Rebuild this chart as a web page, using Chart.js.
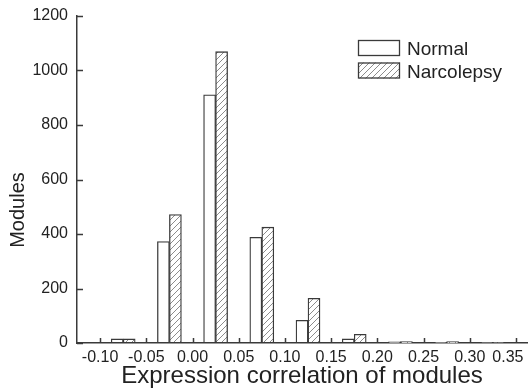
<!DOCTYPE html>
<html>
<head>
<meta charset="utf-8">
<script src="https://cdn.jsdelivr.net/npm/chart.js@4"></script>
<style>
  body { margin: 0; background: #fff; }
  #wrap { width: 528px; height: 391px; }
</style>
</head>
<body>
<div id="wrap"><canvas id="chart"></canvas></div>
<script>
// histogram bins (width 0.05)
const binCenters = [-0.075, -0.025, 0.025, 0.075, 0.125, 0.175, 0.225, 0.275, 0.325];
const normalCounts = [15, 372, 911, 388, 83, 15, 4, 2, 1];
const narcolepsyCounts = [15, 471, 1069, 425, 164, 32, 5, 5, 1];
const xTicks = [-0.10, -0.05, 0.00, 0.05, 0.10, 0.15, 0.20, 0.25, 0.30, 0.35];
const yTicks = [0, 200, 400, 600, 800, 1000, 1200];
const seriesLabels = ['Normal', 'Narcolepsy'];

const FONT = '"Liberation Sans", Arial, sans-serif';
const INK = '#222';
const LINE = '#3a3a3a';

// diagonal hatch for the narcolepsy bars
function makeHatch() {
  const c = document.createElement('canvas');
  c.width = 6; c.height = 6;
  const g = c.getContext('2d');
  g.fillStyle = '#fff';
  g.fillRect(0, 0, 6, 6);
  g.strokeStyle = '#8c8c8c';
  g.lineWidth = 1;
  g.beginPath();
  g.moveTo(-1, 7); g.lineTo(7, -1);
  g.moveTo(-1, 1); g.lineTo(1, -1);
  g.moveTo(5, 7); g.lineTo(7, 5);
  g.stroke();
  return g.createPattern(c, 'repeat');
}
const hatch = makeHatch();

// inward ticks, rotated y title, boxed legend
const extras = {
  id: 'extras',
  afterDraw(chart) {
    const ctx = chart.ctx;
    const xs = chart.scales.x, ys = chart.scales.y;
    const area = chart.chartArea;
    ctx.save();
    ctx.strokeStyle = LINE;
    ctx.lineWidth = 1.5;
    ctx.beginPath();
    xs.ticks.forEach(t => {
      const px = Math.round(xs.getPixelForValue(t.value)) + 0.5;
      ctx.moveTo(px, area.bottom);
      ctx.lineTo(px, area.bottom - 5);
    });
    ys.ticks.forEach(t => {
      const py = Math.round(ys.getPixelForValue(t.value)) + 0.5;
      ctx.moveTo(area.left, py);
      ctx.lineTo(area.left + 6, py);
    });
    ctx.stroke();

    // y title
    ctx.save();
    ctx.fillStyle = INK;
    ctx.font = '20px ' + FONT;
    ctx.translate(24, 210);
    ctx.rotate(-Math.PI / 2);
    ctx.textAlign = 'center';
    ctx.textBaseline = 'alphabetic';
    ctx.fillText('Modules', 0, 0);
    ctx.restore();

    // legend
    const rows = [40, 62.5];
    ctx.font = '19px ' + FONT;
    ctx.textAlign = 'left';
    ctx.textBaseline = 'alphabetic';
    chart.data.datasets.forEach((ds, i) => {
      const top = rows[i];
      ctx.fillStyle = ds.backgroundColor;
      ctx.fillRect(358, top, 42, 16);
      ctx.strokeStyle = LINE;
      ctx.lineWidth = 1.3;
      ctx.strokeRect(358.5, top + 0.5, 41, 15);
      ctx.fillStyle = INK;
      ctx.fillText(ds.label, 407, top + 15);
    });
    ctx.restore();
  }
};

const tickFont = { family: FONT, size: 16 };

new Chart(document.getElementById('chart'), {
  type: 'bar',
  data: {
    datasets: [
      {
        label: seriesLabels[0],
        data: binCenters.map((x, i) => ({ x: x, y: normalCounts[i] })),
        backgroundColor: '#ffffff',
        borderColor: LINE,
        borderWidth: 1.3,
        borderSkipped: false,
        barThickness: 12
      },
      {
        label: seriesLabels[1],
        data: binCenters.map((x, i) => ({ x: x, y: narcolepsyCounts[i] })),
        backgroundColor: hatch,
        borderColor: LINE,
        borderWidth: 1.3,
        borderSkipped: false,
        barThickness: 12
      }
    ]
  },
  options: {
    responsive: true,
    maintainAspectRatio: false,
    animation: false,
    layout: { padding: { top: 16, right: 1, left: 0, bottom: 0 } },
    plugins: {
      legend: { display: false },
      tooltip: { enabled: false }
    },
    scales: {
      x: {
        type: 'linear',
        min: -0.125,
        max: 0.362,
        offset: false,
        afterBuildTicks: s => { s.ticks = xTicks.map(v => ({ value: v })); },
        afterFit: s => { s.height = 48; s.paddingLeft = 0; s.paddingRight = 0; },
        grid: { display: false, drawTicks: false },
        border: { color: LINE, width: 1.5 },
        ticks: {
          padding: 5,
          color: INK,
          font: tickFont,
          maxRotation: 0,
          autoSkip: false,
          // last label is nudged left so it stays inside the canvas
          callback: (v, i) => v.toFixed(2) + (i === xTicks.length - 1 ? '\u2002\u2002' : '')
        },
        title: {
          display: true,
          text: 'Expression correlation of modules',
          color: INK,
          font: { family: FONT, size: 24 },
          padding: { top: 0, bottom: 0 }
        }
      },
      y: {
        min: 0,
        max: 1200,
        afterBuildTicks: s => { s.ticks = yTicks.map(v => ({ value: v })); },
        afterFit: s => { s.width = 77; s.paddingTop = 0; s.paddingBottom = 0; },
        grid: { display: false, drawTicks: false },
        border: { color: LINE, width: 1.5 },
        ticks: {
          padding: 9,
          color: INK,
          font: tickFont,
          callback: v => String(v)
        }
      }
    }
  },
  plugins: [extras]
});
</script>
</body>
</html>
